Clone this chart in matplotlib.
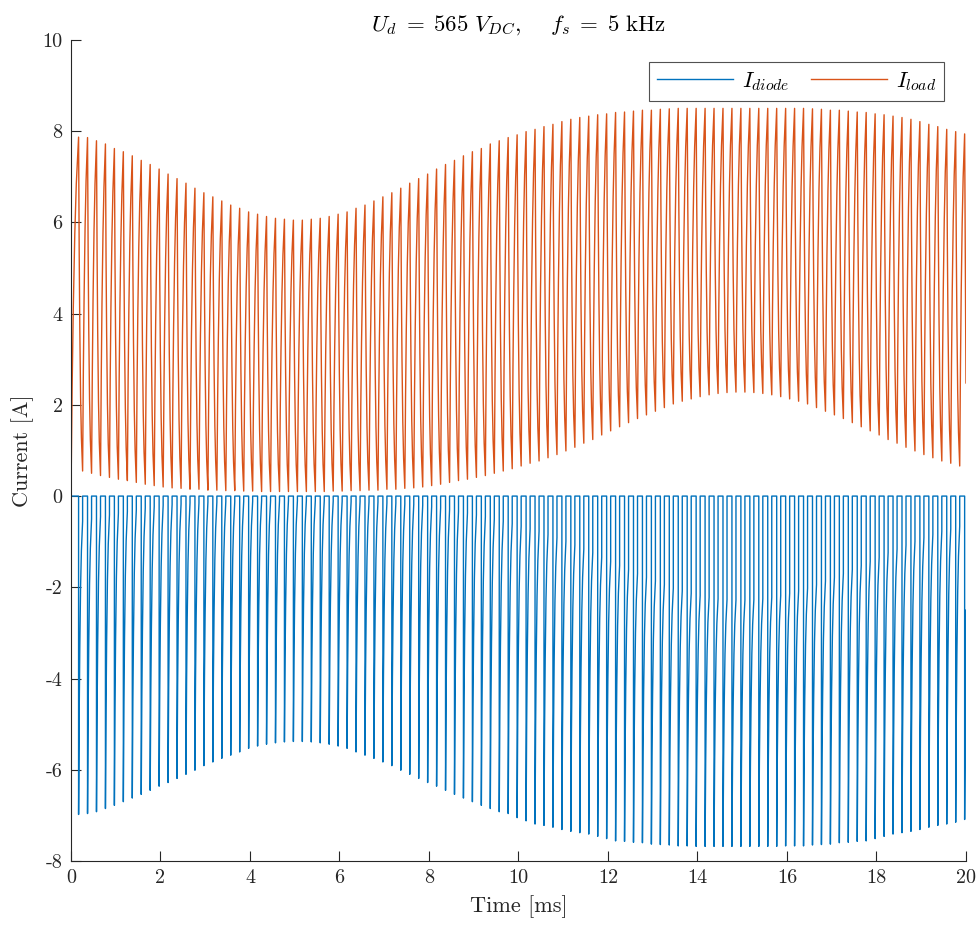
import matplotlib.pyplot as plt

plt.rcParams['font.family'] = ['cmr10', 'DejaVu Serif']
plt.rcParams['mathtext.fontset'] = 'cm'
plt.rcParams['axes.unicode_minus'] = False

# switching timing (ms), 5 kHz
period = 0.2
t_on = 0.06    # switch closes (phase within a period)
t_off = 0.17   # switch opens

# load current at the end of each on-interval (A)
load_peak = [
    7.87, 7.86, 7.79, 7.72, 7.62, 7.55, 7.46, 7.36, 7.27, 7.17,
    7.06, 6.96, 6.86, 6.75, 6.65, 6.56, 6.47, 6.38, 6.31, 6.23,
    6.18, 6.13, 6.09, 6.07, 6.05, 6.05, 6.07, 6.09, 6.13, 6.18,
    6.23, 6.31, 6.38, 6.47, 6.56, 6.65, 6.75, 6.86, 6.96, 7.06,
    7.17, 7.27, 7.36, 7.46, 7.55, 7.62, 7.72, 7.79, 7.86, 7.92,
    7.99, 8.04, 8.10, 8.15, 8.21, 8.26, 8.30, 8.33, 8.36, 8.38,
    8.41, 8.42, 8.44, 8.46, 8.46, 8.48, 8.49, 8.50, 8.50, 8.50,
    8.50, 8.50, 8.50, 8.50, 8.50, 8.50, 8.50, 8.50, 8.50, 8.50,
    8.50, 8.50, 8.49, 8.48, 8.46, 8.46, 8.44, 8.42, 8.41, 8.38,
    8.36, 8.33, 8.30, 8.26, 8.21, 8.15, 8.10, 8.04, 7.99, 7.94,
]

# load current at the end of each off-interval (A)
load_valley = [
    0.55, 0.50, 0.45, 0.41, 0.37, 0.34, 0.30, 0.26, 0.23, 0.20,
    0.18, 0.17, 0.15, 0.15, 0.13, 0.13, 0.12, 0.12, 0.11, 0.11,
    0.10, 0.10, 0.10, 0.10, 0.10, 0.10, 0.10, 0.10, 0.11, 0.11,
    0.12, 0.12, 0.13, 0.13, 0.15, 0.15, 0.17, 0.18, 0.20, 0.23,
    0.26, 0.30, 0.34, 0.37, 0.41, 0.45, 0.50, 0.55, 0.60, 0.66,
    0.72, 0.77, 0.84, 0.91, 0.99, 1.07, 1.16, 1.24, 1.34, 1.43,
    1.52, 1.61, 1.70, 1.78, 1.86, 1.94, 2.02, 2.08, 2.13, 2.18,
    2.22, 2.25, 2.27, 2.28, 2.28, 2.27, 2.25, 2.22, 2.18, 2.13,
    2.08, 2.02, 1.94, 1.86, 1.78, 1.70, 1.61, 1.52, 1.43, 1.34,
    1.24, 1.16, 1.07, 0.99, 0.91, 0.84, 0.77, 0.72, 0.66,
]

# diode current magnitude right after each turn-off (A)
diode_min = [
    6.98, 6.96, 6.92, 6.85, 6.78, 6.70, 6.62, 6.54, 6.45, 6.36,
    6.28, 6.19, 6.10, 6.01, 5.91, 5.83, 5.75, 5.68, 5.61, 5.53,
    5.48, 5.44, 5.41, 5.39, 5.38, 5.38, 5.39, 5.41, 5.44, 5.48,
    5.53, 5.61, 5.68, 5.75, 5.83, 5.91, 6.01, 6.10, 6.19, 6.28,
    6.36, 6.45, 6.54, 6.62, 6.70, 6.78, 6.85, 6.92, 6.96, 7.05,
    7.12, 7.19, 7.22, 7.26, 7.31, 7.35, 7.38, 7.41, 7.46, 7.51,
    7.56, 7.57, 7.59, 7.60, 7.63, 7.64, 7.65, 7.67, 7.67, 7.68,
    7.68, 7.68, 7.68, 7.68, 7.68, 7.68, 7.68, 7.68, 7.68, 7.67,
    7.67, 7.67, 7.65, 7.64, 7.63, 7.60, 7.59, 7.57, 7.56, 7.51,
    7.46, 7.41, 7.38, 7.35, 7.31, 7.26, 7.22, 7.19, 7.15, 7.09,
]

# last samples at t = 20 ms
t_end = 20.0
load_end = 2.48
diode_end = -2.5

# RL charge / discharge profile inside one interval
steps = [0.0, 0.15, 0.3, 0.5, 0.7, 1.0]
rise = [0.0, 0.30, 0.52, 0.73, 0.87, 1.0]
fall = [1.0, 0.66, 0.43, 0.22, 0.10, 0.0]

t_load, i_load = [], []
t_diode, i_diode = [0.0], [0.0]
for k, peak in enumerate(load_peak):
    t0 = k * period
    start = 0.0 if k == 0 else load_valley[k - 1]
    r0 = 0.0 if k == 0 else t0 + t_on
    r1 = t0 + t_off
    for s, g in zip(steps, rise):
        t_load.append(r0 + s * (r1 - r0))
        i_load.append(start + g * (peak - start))
    t_diode += [r1, r1]
    i_diode += [0.0, -diode_min[k]]
    if k < len(load_valley):
        low = load_valley[k]
        f1 = t0 + period + t_on
        for s, g in zip(steps[1:], fall[1:]):
            tt = r1 + s * (f1 - r1)
            t_load.append(tt)
            i_load.append(low + g * (peak - low))
            t_diode.append(tt)
            i_diode.append(-(low + g * (diode_min[k] - low)))
        t_diode.append(f1)
        i_diode.append(0.0)
t_load.append(t_end)
i_load.append(load_end)
t_diode.append(t_end)
i_diode.append(diode_end)

fig = plt.figure(figsize=(9.79, 9.27), dpi=100)
ax = fig.add_axes([0.0725, 0.0712, 0.9142, 0.8857])
ax.plot(t_diode, i_diode, color='#0072BD', lw=1.0, label=r'$I_{diode}$')
ax.plot(t_load, i_load, color='#D95319', lw=1.0, label=r'$I_{load}$')

ax.set_xlim(0, 20)
ax.set_ylim(-8, 10)
xt = list(range(0, 21, 2))
yt = list(range(-8, 11, 2))
ax.set_xticks(xt)
ax.set_xticklabels([str(v) for v in xt])
ax.set_yticks(yt)
ax.set_yticklabels([str(v) for v in yt])
ax.tick_params(direction='in', length=7, width=0.8, colors='#262626', labelsize=14.5, pad=6)
for side in ['top', 'right']:
    ax.spines[side].set_visible(False)
for side in ['left', 'bottom']:
    ax.spines[side].set_color('#262626')
    ax.spines[side].set_linewidth(0.8)

ax.set_xlabel('Time [ms]', fontsize=16, color='#262626', labelpad=6)
ax.set_ylabel('Current [A]', fontsize=16, color='#262626', labelpad=6)
ax.set_title(r'$U_d\;=\;565\ V_{DC},\quad\; f_s\;=\;5\ \mathrm{kHz}$', fontsize=16.5, pad=7)

leg = ax.legend(loc='upper right', ncol=2, fontsize=16, frameon=True, fancybox=False,
                edgecolor='#262626', handlelength=3.4, handletextpad=0.4,
                borderaxespad=1.0, columnspacing=1.0, borderpad=0.35)
leg.get_frame().set_linewidth(0.8)

fig.savefig('out.png', dpi=100)
